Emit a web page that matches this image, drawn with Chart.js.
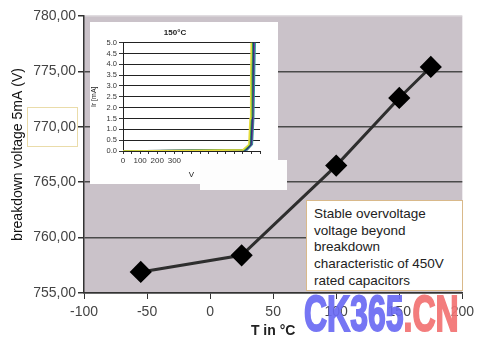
<!DOCTYPE html>
<html>
<head>
<meta charset="utf-8">
<script src="https://cdn.jsdelivr.net/npm/chart.js@4.4.1/dist/chart.umd.min.js"></script>
<style>
  body { margin: 0; background: #fff; }
  #wrap { position: relative; width: 479px; height: 344px; overflow: hidden; }
  #main { position: absolute; left: 0; top: 0; }
  #inset { position: absolute; left: 90px; top: 22px; background: #fff; }
  #patch { position: absolute; left: 200px; top: 160px; width: 87px; height: 30px; background: #fdfdfd; }
  #note {
    position: absolute; left: 306px; top: 200px; width: 157px; height: 91px;
    box-sizing: border-box; border: 1px solid #d9b98a; background: #fff;
    padding: 5px 0 0 7px; font: 13.5px "Liberation Sans", Arial, sans-serif;
    line-height: 16.7px; color: #222;
  }
  #labelBox { position: absolute; left: 27px; top: 107px; width: 51px; height: 40px; box-sizing: border-box; border: 1px solid #eadcaa; }
  #mark {
    position: absolute; left: 304px; top: 289px; white-space: nowrap;
    font: bold 50px "Liberation Sans", Arial, sans-serif;
    line-height: 50px; letter-spacing: 0px; opacity: 0.92;
    -webkit-text-stroke: 2px currentColor;
    transform: scaleX(0.64); transform-origin: 0 0;
  }
</style>
</head>
<body>
<div id="wrap">
  <canvas id="main" width="479" height="344"></canvas>
  <canvas id="inset" width="188" height="162"></canvas>
  <div id="patch"></div>
  <div id="labelBox"></div>
  <div id="note">Stable overvoltage<br>voltage beyond<br>breakdown<br>characteristic of 450V<br>rated capacitors</div>
  <div id="mark"><span style="color:#6b6bf3">CK365</span><span style="color:#f27272">.CN</span></div>
</div>
<script>
// main chart: breakdown voltage vs temperature
const temps = [-55, 25, 100, 150, 175];
const voltages = [756.9, 758.4, 766.5, 772.6, 775.4];

// inset chart (150°C), current vs voltage curves
const insetV1 = [0, 400, 700, 735, 742, 746, 749];
const insetI1 = [0, 0.02, 0.05, 0.3, 1.5, 3.5, 5.0];
const insetV2 = [0, 400, 710, 740, 748, 752, 755];
const insetI2 = [0, 0.03, 0.06, 0.3, 1.6, 3.6, 5.0];
const insetV3 = [0, 400, 715, 745, 753, 757, 760];
const insetI3 = [0, 0.02, 0.05, 0.3, 1.5, 3.4, 5.0];
const insetV4 = [0, 400, 720, 750, 758, 762, 766];
const insetI4 = [0, 0.03, 0.06, 0.3, 1.4, 3.5, 5.0];
const insetV5 = [0, 400, 725, 755, 763, 768, 772];
const insetI5 = [0, 0.02, 0.05, 0.3, 1.5, 3.6, 5.0];
const insetColors = ["#e6dc3c", "#2f9a4e", "#1c2c7e", "#6e3a8e", "#2ea3a0"];

const arial = "'Liberation Sans', Arial, sans-serif";

function pts(xs, ys) {
  return xs.map((x, i) => ({ x: x, y: ys[i] }));
}

const plotBg = {
  id: "plotBg",
  beforeDraw(chart, args, opts) {
    const a = chart.chartArea;
    const c = chart.ctx;
    c.save();
    c.fillStyle = opts.color;
    c.fillRect(a.left, a.top, a.right - a.left, a.bottom - a.top);
    c.restore();
  }
};

new Chart(document.getElementById("main"), {
  type: "scatter",
  data: {
    datasets: [{
      data: pts(temps, voltages),
      showLine: true,
      borderColor: "#2e2e2e",
      borderWidth: 3,
      pointStyle: "rectRot",
      pointRadius: 9,
      pointBackgroundColor: "#000",
      pointBorderColor: "#000"
    }]
  },
  options: {
    responsive: false,
    animation: false,
    layout: { padding: { top: 16, right: 16, left: 0, bottom: 0 } },
    plugins: { legend: { display: false }, tooltip: { enabled: false }, plotBg: { color: "#cac2c9" } },
    scales: {
      x: {
        type: "linear", min: -100, max: 200,
        ticks: { stepSize: 50, color: "#444", font: { family: arial, size: 14 }, padding: 5 },
        grid: { drawOnChartArea: false, tickLength: 6, tickColor: "#333" },
        border: { color: "#333", width: 1.5 },
        title: { display: true, text: "T in °C", color: "#222", font: { family: arial, size: 14, weight: "bold" }, padding: { top: 9 } },
        afterFit(s) { s.height = 51; }
      },
      y: {
        min: 755, max: 780,
        ticks: {
          stepSize: 5, color: "#444", font: { family: arial, size: 14 }, padding: 2,
          callback: v => v.toFixed(2).replace(".", ",")
        },
        grid: {
          color: ctx => (ctx.tick && ctx.tick.value === 780) ? "#e0dce0" : "#4a4a4a",
          lineWidth: 1.5, tickLength: 6, tickColor: "#333"
        },
        border: { color: "#333", width: 1.5 },
        title: { display: true, text: "breakdown voltage 5mA (V)", color: "#111", font: { family: arial, size: 14 }, padding: { top: 10, bottom: 4 } },
        afterFit(s) { s.width = 84; }
      }
    }
  },
  plugins: [plotBg]
});

const insetX = [insetV1, insetV2, insetV3, insetV4, insetV5];
const insetY = [insetI1, insetI2, insetI3, insetI4, insetI5];

new Chart(document.getElementById("inset"), {
  type: "scatter",
  data: {
    datasets: insetX.map((xs, i) => ({
      data: pts(xs, insetY[i]),
      showLine: true,
      borderColor: insetColors[i],
      borderWidth: 1.6,
      pointRadius: 0
    }))
  },
  options: {
    responsive: false,
    animation: false,
    layout: { padding: { top: 0, right: 18, left: 0, bottom: 0 } },
    plugins: {
      legend: { display: false }, tooltip: { enabled: false },
      title: { display: true, text: "150°C", color: "#222", font: { family: arial, size: 8, weight: "bold" }, padding: { top: 6, bottom: 5 } }
    },
    scales: {
      x: {
        type: "linear", min: 0, max: 800,
        ticks: {
          stepSize: 50, color: "#333", font: { family: arial, size: 8 }, padding: 2, autoSkip: false, maxRotation: 0,
          callback: v => (v % 100 === 0 && v <= 300) ? String(v) : ""
        },
        grid: { drawOnChartArea: false, tickLength: 3, tickColor: "#333" },
        border: { color: "#222" },
        title: { display: true, text: "V", color: "#222", font: { family: arial, size: 8 }, padding: { top: 2 } },
        afterFit(s) { s.height = 33; }
      },
      y: {
        min: 0, max: 5,
        ticks: { stepSize: 0.5, autoSkip: false, color: "#333", font: { family: arial, size: 7.5 }, padding: 2, callback: v => v.toFixed(1) },
        grid: { color: "#222", lineWidth: 1, tickLength: 4, tickColor: "#333" },
        border: { color: "#222" },
        title: { display: true, text: "Ir [mA]", color: "#222", font: { family: arial, size: 7 }, padding: 0 },
        afterFit(s) { s.width = 33; }
      }
    }
  }
});
</script>
</body>
</html>
